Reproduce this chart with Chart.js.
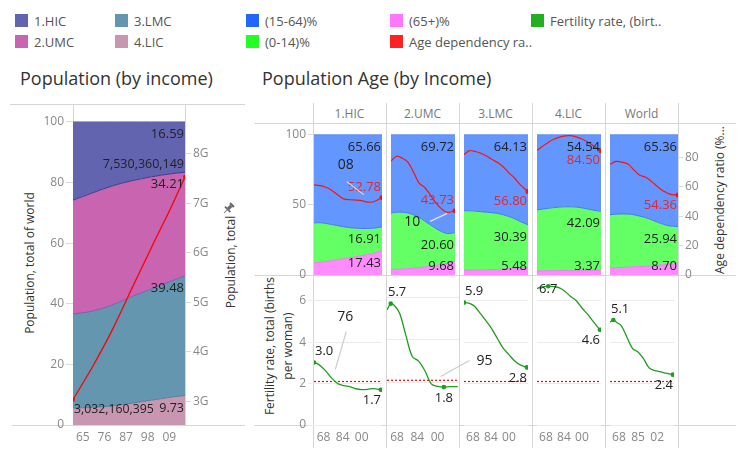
<!DOCTYPE html>
<html>
<head>
<meta charset="utf-8">
<script src="https://cdn.jsdelivr.net/npm/chart.js@4.4.0/dist/chart.umd.min.js"></script>
<style>
body { margin: 0; width: 743px; height: 466px; overflow: hidden; background: #fff; position: relative; font-family: "Open Sans", sans-serif; }
canvas { position: absolute; }
.hl, .vl { position: absolute; background: #d6d6d6; }
.hl { height: 1px; }
.vl { width: 1px; }
.title { position: absolute; font-size: 18px; line-height: 24px; color: #333; white-space: nowrap; }
.lg { position: absolute; font-size: 13px; line-height: 18px; color: #555; white-space: nowrap; }
.lg i { position: absolute; left: -19px; top: 2px; width: 13px; height: 13px; }
.head { position: absolute; top: 105px; height: 18px; line-height: 18px; text-align: center; font-size: 12px; color: #777; }
.vt { position: absolute; transform: rotate(-90deg); text-align: center; white-space: nowrap; font-size: 12px; color: #333; }
</style>
</head>
<body>
<script>
// ---- population by income (share of world, %) ----
const incomeGroups = ['1.HIC', '2.UMC', '3.LMC', '4.LIC'];
const popYears = [1960, 1970, 1980, 1990, 2000, 2010, 2017];
const shareHIC = [25.8, 23.4, 21.1, 19.4, 18.1, 17.1, 16.59];
const shareUMC = [37.6, 39.0, 39.3, 38.2, 37.0, 35.4, 34.21];
const shareLMC = [30.95, 31.8, 33.3, 35.2, 36.7, 38.3, 39.48];
const shareLIC = [5.65, 5.8, 6.3, 7.2, 8.2, 9.2, 9.73];
const worldPopulation = [3032160395, 3700000000, 4440000000, 5280000000, 6110000000, 6920000000, 7530360149];
const popTicks = [1965, 1976, 1987, 1998, 2009];

// ---- age structure (%) and age dependency ratio ----
const ageGroups = ['(15-64)%', '(0-14)%', '(65+)%'];
const ageYears = [1960, 1965, 1970, 1975, 1980, 1985, 1990, 1995, 2000, 2005, 2010, 2017];

const hic65   = [8.6, 9.1, 9.6, 10.3, 11.0, 11.6, 12.3, 13.0, 13.8, 14.6, 15.5, 17.43];
const hic014  = [28.6, 28.2, 27.2, 25.7, 24.2, 22.8, 21.5, 20.4, 19.4, 18.6, 17.9, 16.91];
const hic1564 = [62.8, 62.7, 63.2, 64.0, 64.8, 65.6, 66.2, 66.6, 66.8, 66.8, 66.6, 65.66];
const hicDep  = [61.3, 60.8, 59.7, 57.5, 54.5, 51.8, 51.2, 51.0, 50.6, 49.6, 49.8, 52.78];

const umc65   = [4.0, 4.1, 4.3, 4.6, 5.0, 5.3, 5.8, 6.3, 6.9, 7.4, 8.3, 9.68];
const umc014  = [40.2, 40.7, 40.5, 39.7, 38.0, 35.9, 32.7, 29.5, 26.3, 23.6, 21.3, 20.60];
const umc1564 = [55.8, 55.2, 55.2, 55.7, 57.0, 58.8, 61.5, 64.2, 66.8, 69.0, 70.4, 69.72];
const umcDep  = [77.5, 80.8, 79.5, 76.8, 70.0, 62.5, 59.5, 54.5, 49.0, 45.0, 42.6, 43.73];

const lmc65   = [3.5, 3.5, 3.6, 3.7, 3.8, 3.9, 4.0, 4.2, 4.5, 4.8, 5.1, 5.48];
const lmc014  = [42.4, 42.3, 42.0, 41.5, 41.0, 40.6, 39.9, 38.8, 37.2, 35.4, 33.1, 30.39];
const lmc1564 = [54.1, 54.2, 54.4, 54.8, 55.2, 55.5, 56.1, 57.0, 58.3, 59.8, 61.8, 64.13];
const lmcDep  = [81.9, 84.6, 84.0, 82.8, 81.0, 78.5, 76.5, 73.5, 69.5, 66.0, 61.5, 56.80];

const lic65   = [3.0, 3.0, 3.0, 3.0, 3.1, 3.1, 3.1, 3.1, 3.2, 3.2, 3.3, 3.37];
const lic014  = [43.5, 44.0, 44.6, 45.1, 45.4, 45.6, 45.6, 45.4, 44.7, 43.9, 43.0, 42.09];
const lic1564 = [53.5, 53.0, 52.4, 51.9, 51.5, 51.3, 51.3, 51.5, 52.1, 52.9, 53.7, 54.54];
const licDep  = [84.8, 87.6, 90.2, 92.3, 93.8, 94.7, 94.8, 94.0, 92.5, 90.5, 88.0, 84.50];

const wld65   = [5.0, 5.2, 5.4, 5.6, 5.9, 6.0, 6.2, 6.5, 6.9, 7.3, 7.6, 8.70];
const wld014  = [38.1, 38.2, 38.2, 37.9, 37.1, 36.0, 34.7, 32.8, 30.7, 28.8, 27.4, 25.94];
const wld1564 = [56.9, 56.6, 56.4, 56.5, 57.0, 58.0, 59.1, 60.7, 62.4, 63.9, 65.0, 65.36];
const wldDep  = [75.3, 77.3, 76.8, 75.5, 71.5, 67.8, 66.5, 63.5, 60.0, 57.0, 55.0, 54.36];

// ---- fertility rate (births per woman) ----
const fertYears = [1960, 1963, 1966, 1970, 1975, 1980, 1985, 1990, 1995, 2000, 2005, 2010, 2016];
const hicFert = [3.02, 2.95, 2.82, 2.6, 2.25, 2.0, 1.9, 1.85, 1.75, 1.71, 1.72, 1.76, 1.7];
const umcFert = [5.41, 5.7, 5.6, 5.25, 4.2, 3.22, 3.0, 2.55, 1.93, 1.81, 1.78, 1.8, 1.8];
const lmcFert = [5.91, 5.9, 5.85, 5.7, 5.35, 5.0, 4.62, 4.15, 3.7, 3.4, 3.1, 2.9, 2.78];
const licFert = [6.59, 6.65, 6.68, 6.7, 6.68, 6.62, 6.45, 6.2, 6.0, 5.65, 5.35, 5.0, 4.6];
const wldFert = [4.97, 5.07, 4.95, 4.8, 4.25, 3.7, 3.52, 3.18, 2.75, 2.62, 2.57, 2.5, 2.43];
const replacementRate = 2.1;
const fertTicks = [1968, 1984, 2000];
const worldFertTicks = [1968, 1985, 2002];

const columns = [
  { name: '1.HIC', p65: hic65, p014: hic014, p1564: hic1564, dep: hicDep, fert: hicFert, ticks: fertTicks },
  { name: '2.UMC', p65: umc65, p014: umc014, p1564: umc1564, dep: umcDep, fert: umcFert, ticks: fertTicks },
  { name: '3.LMC', p65: lmc65, p014: lmc014, p1564: lmc1564, dep: lmcDep, fert: lmcFert, ticks: fertTicks },
  { name: '4.LIC', p65: lic65, p014: lic014, p1564: lic1564, dep: licDep, fert: licFert, ticks: fertTicks },
  { name: 'World', p65: wld65, p014: wld014, p1564: wld1564, dep: wldDep, fert: wldFert, ticks: worldFertTicks }
];

// ---- styling ----
const incomeFill = ['#6264b0', '#c864b0', '#6496b0', '#c896b0'];
const incomeLine = ['#5f61ad', '#3c3a8c', '#7c5ca8', '#5080a0'];
const ageLegend = ['#2266ff', '#22ff22', '#ff77ff'];
const ageFill = ['#6496ff', '#64ff64', '#ff8cff'];
const ageLine = ['#5a8cf5', '#3f78f5', '#f07af0'];
const red = '#ff1010';
const green = '#1e9e1e';
const depDy = [-10, -10, 10, 10, 10];
const bounds = [313, 386, 459, 532, 605, 678];

Chart.defaults.font.family = '"Open Sans", sans-serif';
Chart.defaults.font.size = 12;
Chart.defaults.color = '#888';
Chart.defaults.animation = false;
Chart.defaults.plugins.legend.display = false;
Chart.defaults.plugins.tooltip.enabled = false;

function xy(xs, ys) {
  return ys.map((v, i) => ({ x: xs[i], y: v }));
}

function el(cls, css, html) {
  const d = document.createElement('div');
  d.className = cls;
  d.style.cssText = css;
  if (html !== undefined) d.innerHTML = html;
  document.body.appendChild(d);
  return d;
}

function addCanvas(left, top, w, h) {
  const c = document.createElement('canvas');
  c.width = w;
  c.height = h;
  c.style.left = left + 'px';
  c.style.top = top + 'px';
  c.style.width = w + 'px';
  c.style.height = h + 'px';
  document.body.appendChild(c);
  return c;
}

function vtext(html, cx, cy, w, h) {
  return el('vt', `left:${cx - w / 2}px;top:${cy - h / 2}px;width:${w}px;height:${h}px;line-height:${h}px`, html);
}

function fixTicks(values) {
  return s => { s.ticks = values.map(v => ({ value: v })); };
}

function fixWidth(w) {
  return s => { s.width = w; s.paddingTop = 0; s.paddingBottom = 0; };
}

function fixHeight(h) {
  return s => { s.height = h; s.paddingLeft = 0; s.paddingRight = 0; };
}

const f1 = v => v.toFixed(1);
const f2 = v => v.toFixed(2);
const fPop = v => v.toLocaleString('en-US');

// value labels, kept inside the pane like Tableau does
function labelPlugin(items) {
  return {
    id: 'valueLabels',
    afterDatasetsDraw(chart) {
      const { ctx, chartArea: a } = chart;
      ctx.save();
      ctx.textAlign = 'center';
      ctx.textBaseline = 'middle';
      items.forEach(it => {
        ctx.font = (it.size || 13) + 'px "Open Sans", sans-serif';
        const pt = chart.getDatasetMeta(it.ds).data[it.idx];
        const text = it.fmt(chart.data.datasets[it.ds].data[it.idx].y);
        const w = ctx.measureText(text).width;
        let y = it.band ? Math.min(pt.y + 12.5, a.bottom - 9) : pt.y + it.dy;
        y = Math.min(Math.max(y, a.top + 9), a.bottom - 9);
        const x = Math.min(Math.max(pt.x, a.left + w / 2 + 1), a.right - w / 2 - 1);
        ctx.fillStyle = it.color || '#222';
        ctx.fillText(text, x, y);
      });
      ctx.restore();
    }
  };
}

// annotation callouts with a pointer line
function notePlugin(notes) {
  return {
    id: 'notes',
    afterDatasetsDraw(chart) {
      const ctx = chart.ctx;
      ctx.save();
      notes.forEach(n => {
        const pt = chart.getDatasetMeta(n.ds).data[n.idx];
        ctx.strokeStyle = n.line;
        ctx.lineWidth = 1.2;
        ctx.beginPath();
        ctx.moveTo(pt.x + n.l[0], pt.y + n.l[1]);
        ctx.lineTo(pt.x + n.l[2], pt.y + n.l[3]);
        ctx.stroke();
        ctx.font = '14px "Open Sans", sans-serif';
        ctx.fillStyle = '#222';
        ctx.textAlign = 'center';
        ctx.textBaseline = 'middle';
        ctx.fillText(n.text, pt.x + n.t[0], pt.y + n.t[1]);
      });
      ctx.restore();
    }
  };
}

// ---- frame lines ----
el('hl', 'left:10px;top:104px;width:235px');
el('hl', 'left:12px;top:425px;width:233px');
el('vl', 'left:73px;top:104px;height:321px');
el('vl', 'left:185px;top:104px;height:321px');
el('hl', 'left:254px;top:123px;width:482px');
el('hl', 'left:254px;top:275px;width:482px');
el('hl', 'left:254px;top:425px;width:482px');
bounds.forEach(b => el('vl', `left:${b}px;top:103px;height:345px`));

// ---- legend ----
const legendItems = [
  [incomeGroups[0], incomeFill[0], 34, 12], [incomeGroups[2], incomeFill[2], 134, 12],
  [incomeGroups[1], incomeFill[1], 34, 33], [incomeGroups[3], incomeFill[3], 134, 33],
  [ageGroups[0], ageLegend[0], 265, 12], [ageGroups[1], ageLegend[1], 265, 33],
  [ageGroups[2], ageLegend[2], 409, 12], ['Age dependency ra..', '#ff2222', 409, 33],
  ['Fertility rate, (birt..', '#22b022', 550, 12]
];
legendItems.forEach(([t, c, x, y]) => el('lg', `left:${x}px;top:${y}px`, `<i style="background:${c}"></i>${t}`));

// ---- titles, headers, axis titles ----
el('title', 'left:20px;top:66px', 'Population (by income)');
el('title', 'left:262px;top:66px', 'Population Age (by Income)');
columns.forEach((c, i) => el('head', `left:${bounds[i]}px;width:${bounds[i + 1] - bounds[i]}px`, c.name));
vtext('Population, total of world', 30, 263, 180, 16);
vtext('Population, total', 231, 262, 120, 16);
vtext('Fertility rate, total (births<br>per woman)', 279, 346, 170, 36).style.lineHeight = '18px';
vtext('Age dependency ratio (%...', 720, 200, 170, 16);
el('pin', 'position:absolute;left:222px;top:198px;width:13px;height:13px',
  '<svg width="13" height="13" viewBox="0 0 12 12"><g transform="rotate(45 6 6)" fill="#6a6a6a">' +
  '<rect x="3.5" y="0.5" width="5" height="2"/><rect x="4.5" y="2.5" width="3" height="4"/>' +
  '<rect x="2.5" y="6.3" width="7" height="1.6"/><rect x="5.6" y="7.9" width="0.8" height="4"/></g></svg>');

// ---- left chart: population share by income + world total ----
(function () {
  const c = addCanvas(0, 104, 250, 346);
  const shares = [shareLIC, shareLMC, shareUMC, shareHIC];
  const fillIdx = [3, 2, 1, 0];
  const datasets = shares.map((s, k) => ({
    data: xy(popYears, s),
    fill: k === 0 ? 'origin' : '-1',
    backgroundColor: incomeFill[fillIdx[k]],
    borderColor: incomeLine[fillIdx[k]],
    borderWidth: 1,
    pointRadius: 0,
    tension: 0.35
  }));
  datasets.push({
    data: xy(popYears, worldPopulation),
    yAxisID: 'y2',
    order: -1,
    fill: false,
    borderColor: '#ff0000',
    borderWidth: 1.3,
    tension: 0.3,
    pointRadius: ctx => (ctx.dataIndex === 0 || ctx.dataIndex === popYears.length - 1) ? 2 : 0,
    pointBackgroundColor: '#ff0000',
    pointBorderWidth: 0
  });
  const last = popYears.length - 1;
  new Chart(c, {
    type: 'line',
    data: { datasets },
    options: {
      responsive: false,
      layout: { padding: { top: 1, bottom: 0, left: 0, right: 0 } },
      scales: {
        x: {
          type: 'linear', min: 1960, max: 2017,
          afterBuildTicks: fixTicks(popTicks), afterFit: fixHeight(25),
          ticks: { padding: 5, callback: v => String(v).slice(2) },
          grid: { display: false, drawTicks: false }, border: { display: false }
        },
        y: {
          stacked: true, min: 0, max: 104.6,
          afterBuildTicks: fixTicks([0, 20, 40, 60, 80, 100]), afterFit: fixWidth(73),
          ticks: { padding: 2 },
          grid: { drawOnChartArea: false, tickLength: 7, color: '#d8d8d8' }, border: { display: false }
        },
        y2: {
          position: 'right', min: 2.52e9, max: 8.92e9,
          afterBuildTicks: fixTicks([3e9, 4e9, 5e9, 6e9, 7e9, 8e9]), afterFit: fixWidth(65),
          ticks: { padding: 2, callback: v => (v / 1e9) + 'G' },
          grid: { drawOnChartArea: false, tickLength: 6, color: '#d8d8d8' }, border: { display: false }
        }
      }
    },
    plugins: [labelPlugin([
      { ds: 3, idx: last, band: true, fmt: f2 },
      { ds: 4, idx: last, dy: -12, fmt: fPop, size: 12.5 },
      { ds: 2, idx: last, band: true, fmt: f2 },
      { ds: 1, idx: last, band: true, fmt: f2 },
      { ds: 4, idx: 0, dy: 10, fmt: fPop, size: 12.3 },
      { ds: 0, idx: last, band: true, fmt: f2, size: 12.5 }
    ])]
  });
})();

// ---- right panel: age structure (top) and fertility (bottom) per income group ----
const topNotes = [
  [{ ds: 3, idx: 8, text: '08', l: [2, -6, -15, -19], t: [-16, -36], line: '#e2e2e2' }],
  [{ ds: 3, idx: 10, text: '10', l: [0, 1, -17, 9], t: [-35, 10], line: '#e2e2e2' }],
  [], [], []
];
const bottomNotes = [
  [{ ds: 0, idx: 5, text: '76', l: [-2.6, -14, 8.4, -52], t: [7.4, -67], line: '#cccccc' }],
  [{ ds: 0, idx: 9, text: '95', l: [3, -10, 32, -26], t: [47, -25], line: '#cccccc' }],
  [], [], []
];

columns.forEach((col, i) => {
  const first = i === 0, lastCol = i === columns.length - 1;
  const plotL = bounds[i] + 1, plotW = bounds[i + 1] - bounds[i] - 1;
  const leftW = first ? 52 : 0, rightW = lastCol ? 60 : 0;
  const n = ageYears.length - 1;

  // top: stacked age shares + dependency ratio
  const ct = addCanvas(plotL - leftW, 124, leftW + plotW + rightW, 161);
  const bands = [col.p65, col.p014, col.p1564];
  const fillMap = [2, 1, 0];
  const datasets = bands.map((s, k) => ({
    data: xy(ageYears, s),
    fill: k === 0 ? 'origin' : '-1',
    backgroundColor: ageFill[fillMap[k]],
    borderColor: ageLine[fillMap[k]],
    borderWidth: 1,
    pointRadius: 0,
    tension: 0.35
  }));
  datasets.push({
    data: xy(ageYears, col.dep),
    yAxisID: 'y2',
    order: -1,
    fill: false,
    borderColor: red,
    borderWidth: 1.2,
    tension: 0.35,
    pointRadius: ctx => ctx.dataIndex === n ? 2.5 : 0,
    pointBackgroundColor: red,
    pointBorderWidth: 0
  });
  new Chart(ct, {
    type: 'line',
    data: { datasets },
    options: {
      responsive: false,
      layout: { padding: { top: 0, bottom: 10, left: 0, right: 0 } },
      scales: {
        x: { type: 'linear', min: 1960, max: 2017, display: false },
        y: {
          stacked: true, min: 0, max: 104.9, display: first,
          afterBuildTicks: fixTicks([0, 50, 100]), afterFit: fixWidth(leftW),
          ticks: { padding: 2 },
          grid: { drawOnChartArea: false, tickLength: 6, color: '#d8d8d8' }, border: { display: false }
        },
        y2: {
          position: 'right', min: 0, max: 100, display: lastCol,
          afterBuildTicks: fixTicks([0, 20, 40, 60, 80]), afterFit: fixWidth(rightW),
          ticks: { padding: 2 },
          grid: { drawOnChartArea: false, tickLength: 5, color: '#d8d8d8' }, border: { display: false }
        }
      }
    },
    plugins: [
      labelPlugin([
        { ds: 2, idx: n, band: true, fmt: f2 },
        { ds: 1, idx: n, band: true, fmt: f2 },
        { ds: 0, idx: n, band: true, fmt: f2 },
        { ds: 3, idx: n, dy: depDy[i], fmt: f2, color: '#e5262e' }
      ]),
      notePlugin(topNotes[i])
    ]
  });

  // bottom: fertility rate with replacement level
  const padR = bottomNotes[i].length && !first ? 50 : 0;
  const cb = addCanvas(plotL - leftW, 276, leftW + plotW + padR, 174);
  const fert = col.fert;
  const imax = fert.indexOf(Math.max(...fert));
  const imin = fert.lastIndexOf(Math.min(...fert));
  new Chart(cb, {
    type: 'line',
    data: {
      datasets: [
        {
          data: xy(fertYears, fert),
          order: -1,
          fill: false,
          borderColor: green,
          borderWidth: 1.3,
          tension: 0.35,
          pointRadius: ctx => (ctx.dataIndex === imax || ctx.dataIndex === imin) ? 2.3 : 0,
          pointBackgroundColor: green,
          pointBorderWidth: 0
        },
        {
          data: [{ x: 1960, y: replacementRate }, { x: 2017, y: replacementRate }],
          fill: false,
          borderColor: '#ff0000',
          borderWidth: 1.2,
          borderDash: [2, 2],
          pointRadius: 0
        }
      ]
    },
    options: {
      responsive: false,
      layout: { padding: { top: 0, bottom: 0, left: 0, right: padR } },
      scales: {
        x: {
          type: 'linear', min: 1960, max: 2017,
          afterBuildTicks: fixTicks(col.ticks), afterFit: fixHeight(25),
          ticks: { padding: 5, callback: v => String(v).slice(2) },
          grid: { display: false, drawTicks: false }, border: { display: false }
        },
        y: {
          min: 0, max: 7.0,
          afterBuildTicks: fixTicks([0, 2, 4, 6]), afterFit: fixWidth(leftW),
          ticks: { display: first, padding: 2 },
          grid: { color: '#ececec', tickLength: 6, drawTicks: first }, border: { display: false }
        }
      }
    },
    plugins: [
      labelPlugin([
        { ds: 0, idx: imax, dy: -11, fmt: f1 },
        { ds: 0, idx: imin, dy: 11, fmt: f1 }
      ]),
      notePlugin(bottomNotes[i])
    ]
  });
});
</script>
</body>
</html>
